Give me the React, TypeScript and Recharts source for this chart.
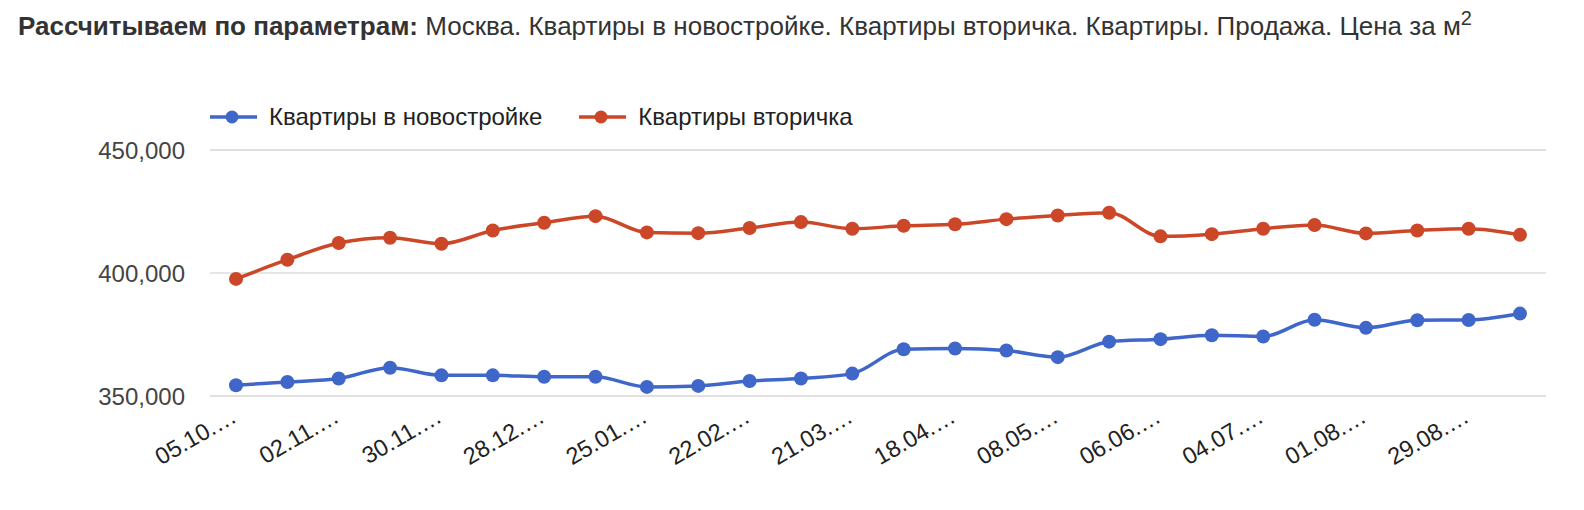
import { CartesianGrid, Line, LineChart, XAxis, YAxis } from 'recharts'

const dates = [
    '05.10.2023', '19.10.2023', '02.11.2023', '16.11.2023', '30.11.2023', '14.12.2023',
    '28.12.2023', '11.01.2024', '25.01.2024', '08.02.2024', '22.02.2024', '07.03.2024',
    '21.03.2024', '04.04.2024', '18.04.2024', '25.04.2024', '08.05.2024', '23.05.2024',
    '06.06.2024', '20.06.2024', '04.07.2024', '18.07.2024', '01.08.2024', '15.08.2024',
    '29.08.2024', '12.09.2024',
]

// Квартиры в новостройке
const newBuild = [
    354400, 355700, 357100, 361500, 358400, 358400, 357800, 357800, 353700, 354100,
    356100, 357100, 359100, 369000, 369300, 368500, 365800, 372100, 373100, 374700,
    374200, 381000, 377700, 380800, 380900, 383500,
]

// Квартиры вторичка
const resale = [
    397600, 405400, 412200, 414300, 411900, 417300, 420400, 423100, 416500, 416200,
    418300, 420700, 418000, 419200, 419800, 421900, 423400, 424500, 414900, 415800,
    418000, 419500, 416100, 417300, 418000, 415500,
]

const majorTicks = [350000, 400000, 450000]
const minorTicks = [375000, 425000]

const series = [
    { key: 'newBuild', name: 'Квартиры в новостройке', color: '#3f67c9' },
    { key: 'resale', name: 'Квартиры вторичка', color: '#cc4727' },
]

const FONT = '"Liberation Sans", Arial, sans-serif'

const chartData = dates.map((date, i) => ({
    date,
    newBuild: newBuild[i],
    resale: resale[i],
}))

function DateTick({ x, y, payload }: any) {
    const label = `${String(payload.value).slice(0, 6)}…`
    return (
        <g transform={`translate(${x + 2},${y + 25})`}>
            <text transform="rotate(-30)" textAnchor="end" fontSize={23.5} fontFamily={FONT} fill="#222">
                {label}
            </text>
        </g>
    )
}

export default function App() {
    return (
        <div style={{ position: 'absolute', left: 0, top: 0, width: 1584, height: 510, background: '#fff' }}>
            <div
                style={{
                    position: 'absolute',
                    left: 18,
                    top: 11,
                    fontFamily: FONT,
                    fontSize: 26,
                    lineHeight: '30px',
                    color: '#333',
                    whiteSpace: 'nowrap',
                }}
            >
                <b>Рассчитываем по параметрам:</b> Москва. Квартиры в новостройке. Квартиры вторичка. Квартиры. Продажа. Цена за м
                <span style={{ fontSize: 20, position: 'relative', top: -10 }}>2</span>
            </div>

            {/* legend */}
            <div style={{ position: 'absolute', left: 210, top: 103, display: 'flex', fontFamily: FONT, fontSize: 24, color: '#222' }}>
                {series.map((s, i) => (
                    <div key={s.key} style={{ display: 'flex', alignItems: 'center', marginRight: i === 0 ? 37 : 0 }}>
                        <svg width={47} height={28} style={{ marginRight: 12 }}>
                            <line x1={0} y1={14} x2={47} y2={14} stroke={s.color} strokeWidth={3.5} />
                            <circle cx={22} cy={14} r={6.5} fill={s.color} />
                        </svg>
                        <span>{s.name}</span>
                    </div>
                ))}
            </div>

            <div style={{ position: 'absolute', left: 0, top: 0 }}>
                <LineChart width={1584} height={510} data={chartData} margin={{ top: 150, right: 38, left: 10, bottom: 34 }}>
                    <CartesianGrid yAxisId="minor" vertical={false} stroke="#ebebeb" />
                    <CartesianGrid vertical={false} stroke="#cccccc" />
                    <XAxis
                        dataKey="date"
                        interval={1}
                        axisLine={false}
                        tickLine={false}
                        tickSize={0}
                        tickMargin={0}
                        height={80}
                        padding={{ left: 26, right: 26 }}
                        tick={<DateTick />}
                    />
                    <YAxis
                        domain={[350000, 450000]}
                        ticks={majorTicks}
                        width={200}
                        axisLine={false}
                        tickLine={false}
                        tickSize={0}
                        tickMargin={25}
                        tick={{ fontSize: 24, fontFamily: FONT, fill: '#444' }}
                        tickFormatter={(v: number) => v.toLocaleString('en-US')}
                    />
                    <YAxis yAxisId="minor" hide domain={[350000, 450000]} ticks={minorTicks} width={0} />
                    {series.map(s => (
                        <Line
                            key={s.key}
                            type="monotone"
                            dataKey={s.key}
                            name={s.name}
                            stroke={s.color}
                            strokeWidth={3.5}
                            dot={{ r: 7, fill: s.color, stroke: 'none' }}
                            activeDot={false}
                            isAnimationActive={false}
                        />
                    ))}
                </LineChart>
            </div>
        </div>
    )
}
